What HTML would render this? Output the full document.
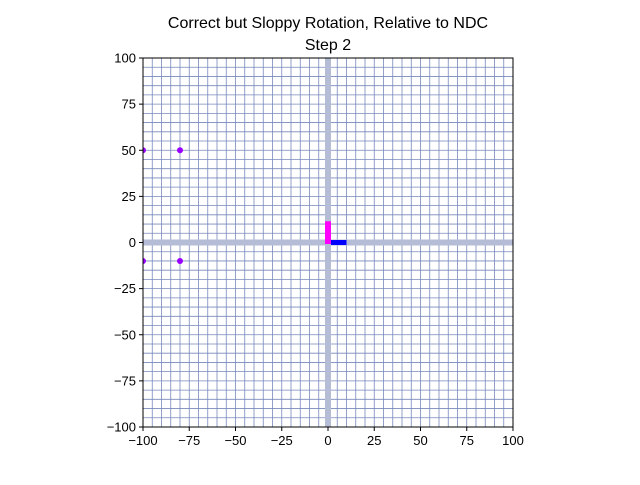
<!DOCTYPE html>
<html><head><meta charset="utf-8"><style>
body{margin:0;background:#fff;}
svg text{font-family:"Liberation Sans","DejaVu Sans",sans-serif;fill:#000;}
</style></head><body>
<svg id="chart" width="640" height="480">
<defs><clipPath id="plotclip"><rect x="143" y="58" width="370" height="369"/></clipPath></defs>
<text x="328" y="28" text-anchor="middle" font-size="16">Correct but Sloppy Rotation, Relative to NDC</text>
<text x="328" y="50" text-anchor="middle" font-size="16">Step 2</text>
<g id="grid"></g><g id="marks" clip-path="url(#plotclip)"></g><g id="axes"></g>
</svg>
<script>
const ticks=[-100,-75,-50,-25,0,25,50,75,100];
const tickLabels=['\u2212100','\u221275','\u221250','\u221225','0','25','50','75','100'];
const pointsX=[-100,-80,-100,-80];
const pointsY=[50,50,-10,-10];
const magentaSeg=[[0,0],[0,11.5]];
const blueSeg=[[0,0],[10,0]];
const X0=143,X1=513,Y0=427,Y1=58;
const sx=v=>X0+(v+100)/200*(X1-X0);
const sy=v=>Y0-(v+100)/200*(Y0-Y1);
const NS='http://www.w3.org/2000/svg';
function mk(t,a,p){const e=document.createElementNS(NS,t);for(const k in a)e.setAttribute(k,a[k]);p.appendChild(e);return e;}
const grid=document.getElementById('grid'),marks=document.getElementById('marks'),axes=document.getElementById('axes');
for(let v=-100;v<=100;v+=5){
 const l1=mk('line',{x1:sx(v),x2:sx(v),y1:Y1,y2:Y0,stroke:'#7888bc','stroke-width':0.8},grid);
 
 
 const l2=mk('line',{x1:X0,x2:X1,y1:sy(v),y2:sy(v),stroke:'#7888bc','stroke-width':0.8},grid);
 
 
}
const ax1=mk('line',{x1:sx(0),x2:sx(0),y1:Y1,y2:Y0,stroke:'#b4bcd6','stroke-width':6},grid);


const ax2=mk('line',{x1:X0,x2:X1,y1:sy(0),y2:sy(0),stroke:'#b4bcd6','stroke-width':6},grid);


const m=mk('line',{x1:sx(magentaSeg[0][0]),y1:sy(magentaSeg[0][1])+1.5,x2:sx(magentaSeg[1][0]),y2:sy(magentaSeg[1][1]),stroke:'#ff00ff','stroke-width':6},marks);


const b=mk('line',{x1:sx(blueSeg[0][0])+3,y1:sy(blueSeg[0][1]),x2:sx(blueSeg[1][0]),y2:sy(blueSeg[1][1]),stroke:'#0000ff','stroke-width':5},marks);


for(let i=0;i<pointsX.length;i++){
 const c=mk('circle',{cx:sx(pointsX[i]),cy:sy(pointsY[i]),r:3,fill:'#9900ff'},marks);
 
 
}
const fr=mk('rect',{x:X0,y:Y1,width:X1-X0,height:Y0-Y1,fill:'none',stroke:'#000','stroke-width':1},axes);


ticks.forEach((v,i)=>{
 const t1=mk('line',{x1:sx(v),x2:sx(v),y1:Y0,y2:Y0+4,stroke:'#000'},axes);
 
 
 const l1=mk('text',{x:sx(v),y:Y0+18,'text-anchor':'middle','font-size':13},axes);
 l1.textContent=tickLabels[i];
 
 
 const t2=mk('line',{x1:X0-4,x2:X0,y1:sy(v),y2:sy(v),stroke:'#000'},axes);
 
 
 const l2=mk('text',{x:X0-7,y:sy(v)+4.5,'text-anchor':'end','font-size':13},axes);
 l2.textContent=tickLabels[i];
 
 
});
</script>
</body></html>
